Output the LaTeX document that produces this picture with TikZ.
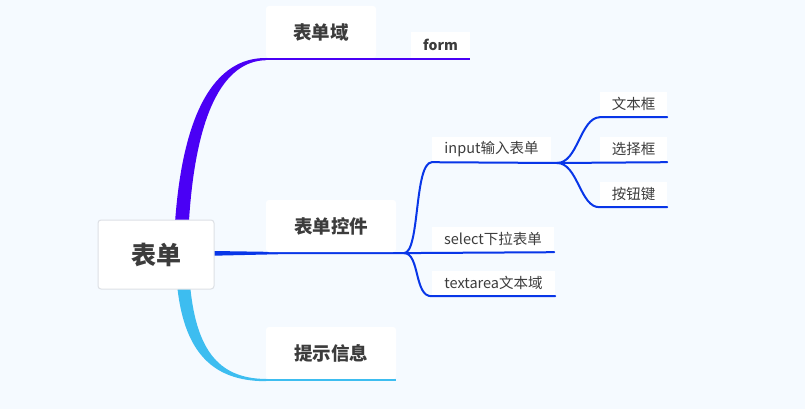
\documentclass[tikz,border=0pt]{standalone}
\usepackage{fontspec}
\setmainfont{Noto Sans CJK SC}
\definecolor{bg}{HTML}{F5FAFF}
\definecolor{txt}{HTML}{3C3C3C}
\definecolor{cpurple}{HTML}{4A00F5}
\definecolor{cblue}{HTML}{0836E8}
\definecolor{csky}{HTML}{3DBDF0}
\definecolor{rootborder}{HTML}{DDE0E5}
\tikzset{
  rootbox/.style={draw=rootborder, line width=1pt, fill=white, rounded corners=3pt, text=txt, font=\fontsize{25}{28}\selectfont\bfseries, inner sep=0pt},
  topicbox/.style={fill=white, rounded corners=3pt, text=txt, font=\fontsize{18.5}{22}\selectfont\bfseries, inner sep=0pt},
  formbox/.style={fill=white, text=txt, font=\fontsize{14}{16}\selectfont\bfseries, inner sep=0pt},
  leafbox/.style={fill=white, text=txt, font=\fontsize{14.5}{17}\selectfont, inner sep=0pt},
  sub/.style={draw=cblue, line width=2pt, line cap=round},
}
\begin{document}
\begin{tikzpicture}[x=1pt,y=-1pt]
\path[fill=bg] (0,0) rectangle (805,409);
\useasboundingbox (0,0) rectangle (805,409);

% main tapered branches
\fill[cpurple] (174,240) .. controls (180,110) and (216,57.6) .. (266,58) -- (266,60.2) .. controls (224,61) and (193,112) .. (188,240) -- cycle;
\fill[csky] (176,270) .. controls (180,352) and (212,381.2) .. (266,381.2) -- (266,379) .. controls (218,378.5) and (193,350) .. (189,270) -- cycle;
\fill[cblue] (200,250.8) .. controls (240,251.8) .. (280,252) -- (404,252) -- (404,254.2) -- (280,254.2) .. controls (240,254.4) .. (200,256) -- cycle;

% nodes
\node[rootbox, minimum width=116, minimum height=69] (root) at (156,254.5) {表单};
\node[topicbox, minimum width=110, minimum height=52] (n1) at (321,32) {表单域};
\node[formbox, minimum width=59, minimum height=26] (form) at (440.5,45) {form};
\node[topicbox, minimum width=130, minimum height=52] (n2) at (331,226) {表单控件};
\node[topicbox, minimum width=130, minimum height=52] (n3) at (331,353) {提示信息};

\node[leafbox, minimum width=119, minimum height=24] (input) at (491.5,149) {input输入表单};
\node[leafbox, minimum width=122, minimum height=24] (select) at (493,239) {select下拉表单};
\node[leafbox, minimum width=123, minimum height=24] (textarea) at (493.5,283) {textarea文本域};

\node[leafbox, minimum width=67, minimum height=24] (t1) at (633.5,104) {文本框};
\node[leafbox, minimum width=67, minimum height=24] (t2) at (633.5,149) {选择框};
\node[leafbox, minimum width=67, minimum height=24] (t3) at (633.5,194) {按钮键};

% underlines of topics
\draw[cpurple, line width=2pt] ([yshift=-1pt]n1.south west) -- ([yshift=-1pt]form.south east);
\draw[csky, line width=2pt] ([yshift=-1pt]n3.south west) -- ([yshift=-1pt]n3.south east);

% sub-branches
\coordinate (j2) at (404,253.1);
\coordinate (j3) at (557,163);
\draw[sub] (j2) .. controls (420,253) and (414,163) .. ([yshift=-1pt]input.south west) -- (j3);
\draw[sub] (j2) -- ([yshift=-1pt]select.south east);
\draw[sub] (j2) .. controls (420,253) and (414,297) .. ([yshift=-1pt]textarea.south west) -- ([yshift=-1pt]textarea.south east);

\draw[sub] (j3) .. controls (578,163) and (580,118) .. ([yshift=-1pt]t1.south west) -- ([yshift=-1pt]t1.south east);
\draw[sub] (j3) -- ([yshift=-1pt]t2.south east);
\draw[sub] (j3) .. controls (578,163) and (580,208) .. ([yshift=-1pt]t3.south west) -- ([yshift=-1pt]t3.south east);
\end{tikzpicture}
\end{document}
